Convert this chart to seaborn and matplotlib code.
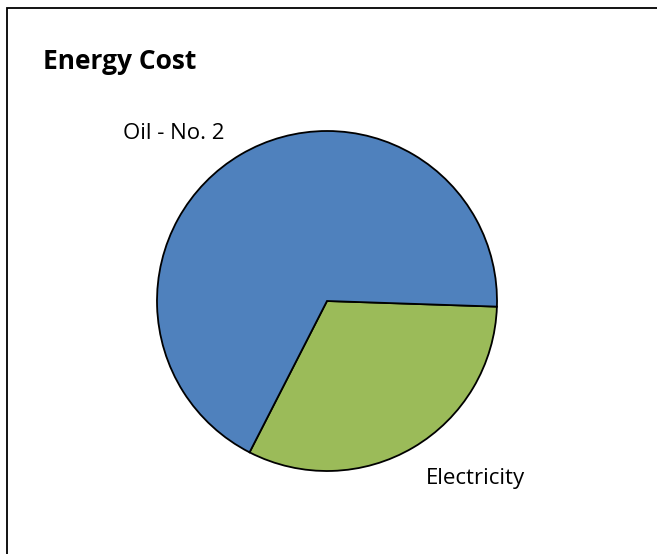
import matplotlib
matplotlib.use("Agg")
import matplotlib.pyplot as plt
import seaborn as sns
from matplotlib.patches import Rectangle

# Data
categories = ["Electricity", "Oil - No. 2"]
shares = [32.0, 68.0]
colors = ["#9BBB59", "#4F81BD"]
title = "Energy Cost"

sns.set_theme(style="white")
plt.rcParams["font.family"] = ["Open Sans", "DejaVu Sans"]

W, H = 657, 554
fig = plt.figure(figsize=(W / 100, H / 100), dpi=100)
fig.patch.set_facecolor("white")

# chart frame (extends beyond the right/bottom edges)
fig.patches.append(Rectangle((7 / W, -0.1), 1.2, 1 - 8 / H + 0.1,
                             transform=fig.transFigure, fill=False,
                             edgecolor="black", linewidth=1.3))

cx, cy, r = 327, 301, 170
ax = fig.add_axes([(cx - r) / W, (H - cy - r) / H, 2 * r / W, 2 * r / H])
ax.pie(shares, colors=colors, startangle=-1.9, counterclock=False,
       radius=1.0, wedgeprops=dict(edgecolor="black", linewidth=1.3))
ax.set_xlim(-1, 1)
ax.set_ylim(-1, 1)
ax.set_aspect("auto")
ax.axis("off")

fig.text(43 / W, 1 - 69 / H, title, fontsize=19, fontweight="bold",
         ha="left", va="baseline", color="black")
fig.text(123 / W, 1 - 139 / H, categories[1], fontsize=16,
         ha="left", va="baseline", color="black")
fig.text(426 / W, 1 - 484 / H, categories[0], fontsize=16,
         ha="left", va="baseline", color="black")

fig.savefig("out.png", dpi=100, facecolor="white")
